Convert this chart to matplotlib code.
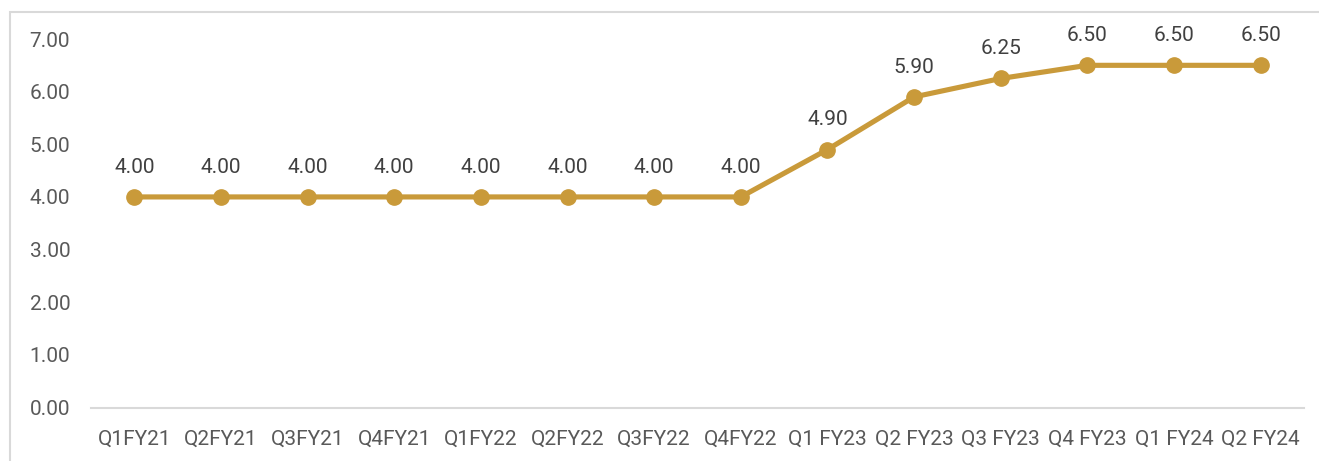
import matplotlib
matplotlib.use("Agg")
import matplotlib.pyplot as plt
from matplotlib.patches import Rectangle

quarters = ["Q1FY21", "Q2FY21", "Q3FY21", "Q4FY21", "Q1FY22", "Q2FY22", "Q3FY22",
            "Q4FY22", "Q1 FY23", "Q2 FY23", "Q3 FY23", "Q4 FY23", "Q1 FY24", "Q2 FY24"]
rates = [4.00, 4.00, 4.00, 4.00, 4.00, 4.00, 4.00, 4.00, 4.90, 5.90, 6.25, 6.50, 6.50, 6.50]
y_ticks = [0, 1, 2, 3, 4, 5, 6, 7]

LINE = "#C99A3A"
TEXT = "#595959"
plt.rcParams["font.family"] = ["Roboto", "DejaVu Sans"]

W, H = 1319, 461
fig = plt.figure(figsize=(W / 100, H / 100), dpi=100)
ax = fig.add_axes([91 / W, 1 - 407.5 / H, (1304 - 91) / W, (407.5 - 39) / H])

x = list(range(len(quarters)))
ax.plot(x, rates, color=LINE, lw=3.7, marker="o", ms=11, solid_capstyle="round", zorder=3)
for xi, v in zip(x, rates):
    ax.annotate(f"{v:.2f}", (xi, v), xytext=(0, 21.5), textcoords="offset points",
                ha="center", va="center", fontsize=15, color="#404040")

ax.set_xlim(-0.5, len(quarters) - 0.5)
ax.set_ylim(0, 7)
ax.set_yticks(y_ticks)
ax.set_yticklabels([f"{t:.2f}" for t in y_ticks])
ax.set_xticks(x)
ax.set_xticklabels(quarters)
ax.tick_params(axis="both", length=0, labelsize=15, labelcolor=TEXT)
ax.tick_params(axis="y", pad=15)
ax.tick_params(axis="x", pad=16)
for s in ["top", "right", "left"]:
    ax.spines[s].set_visible(False)
ax.spines["bottom"].set_color("#D9D9D9")
ax.spines["bottom"].set_linewidth(1.5)

fig.patches.append(Rectangle((9.5 / W, -0.01), 1.0, 1 - 12.5 / H + 0.01,
                             transform=fig.transFigure, fill=False,
                             edgecolor="#D9D9D9", lw=1.5))

fig.savefig("out.png", dpi=100)
